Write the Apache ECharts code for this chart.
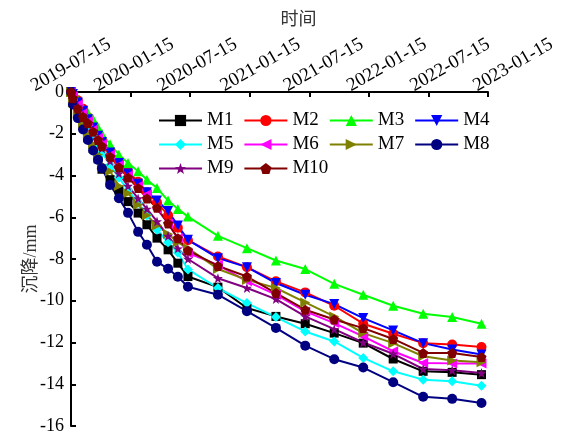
<!DOCTYPE html>
<html>
<head>
<meta charset="utf-8">
<script src="https://cdn.jsdelivr.net/npm/echarts@6/dist/echarts.min.js"></script>
<style>
  html, body { margin: 0; padding: 0; background: #fff; }
  #chart { width: 563px; height: 435px; }
</style>
</head>
<body>
<div id="chart"></div>
<script>
// survey dates (one shared list for all points)
const dates = [
  "2019-07-15", "2019-07-21", "2019-08-05", "2019-08-21", "2019-09-05", "2019-09-21",
  "2019-10-06", "2019-10-18", "2019-11-12", "2019-12-09", "2020-01-06", "2020-02-06",
  "2020-03-04", "2020-04-04", "2020-05-08", "2020-06-07", "2020-07-08", "2020-10-08",
  "2021-01-05", "2021-04-04", "2021-07-03", "2021-09-30", "2021-12-28", "2022-03-30",
  "2022-06-30", "2022-09-27", "2022-12-26"
];
const tickLabels = ["2019-07-15", "2020-01-15", "2020-07-15", "2021-01-15",
  "2021-07-15", "2022-01-15", "2022-07-15", "2023-01-15"];

// settlement values, mm
const m1 = [0, -0.5, -1.0, -1.6, -2.2, -2.7, -3.2, -3.7, -4.2, -4.7, -5.25, -5.8, -6.36, -7.0, -7.56, -8.2, -8.84,
  -9.35, -10.35, -10.75, -11.1, -11.55, -12.03, -12.79, -13.38, -13.43, -13.54];
const m2 = [0, -0.1, -0.4, -0.8, -1.2, -1.6, -2.0, -2.3, -2.8, -3.3, -3.8, -4.3, -4.8, -5.3, -5.9, -6.5, -7.1,
  -7.88, -8.39, -9.07, -9.6, -10.24, -11.1, -11.58, -12.03, -12.1, -12.22];
const m3 = [0, -0.1, -0.4, -0.8, -1.0, -1.3, -1.7, -2.0, -2.5, -3.0, -3.4, -3.8, -4.2, -4.6, -5.2, -5.6, -5.97,
  -6.89, -7.48, -8.07, -8.48, -9.19, -9.71, -10.24, -10.62, -10.78, -11.1];
const m4 = [0, -0.1, -0.5, -0.9, -1.3, -1.7, -2.1, -2.4, -2.9, -3.4, -3.9, -4.4, -4.8, -5.2, -5.7, -6.4, -7.08,
  -7.96, -8.39, -9.15, -9.71, -10.16, -10.83, -11.42, -12.03, -12.34, -12.58];
const m5 = [0, -0.3, -0.8, -1.2, -1.6, -2.1, -2.5, -2.9, -3.5, -4.1, -4.7, -5.3, -5.9, -6.6, -7.2, -7.7, -8.5,
  -9.39, -10.11, -10.78, -11.47, -11.95, -12.74, -13.38, -13.78, -13.86, -14.07];
const m6 = [0, -0.2, -0.6, -1.0, -1.4, -1.8, -2.2, -2.5, -3.0, -3.5, -4.0, -4.5, -4.9, -5.6, -6.3, -7.0, -7.72,
  -8.28, -9.07, -9.71, -10.51, -11.07, -11.71, -12.42, -12.98, -13.0, -13.0];
const m7 = [0, -0.5, -1.0, -1.5, -2.0, -2.5, -3.0, -3.5, -3.8, -4.5, -4.85, -5.4, -5.9, -6.4, -6.8, -7.2, -7.48,
  -8.48, -9.0, -9.39, -10.08, -10.75, -11.55, -12.03, -12.66, -12.86, -12.95];
const m8 = [0, -0.6, -1.25, -1.8, -2.3, -2.8, -3.25, -3.65, -4.45, -5.09, -5.79, -6.7, -7.32, -8.13, -8.47, -8.85, -9.33,
  -9.71, -10.5, -11.3, -12.15, -12.8, -13.2, -13.9, -14.6, -14.7, -14.9];
const m9 = [0, -0.3, -0.7, -1.1, -1.5, -1.9, -2.3, -2.7, -3.3, -3.9, -4.5, -5.1, -5.6, -6.2, -6.9, -7.5, -8.0,
  -8.92, -9.39, -9.92, -10.75, -11.36, -12.0, -12.54, -13.27, -13.33, -13.46];
const m10 = [0, -0.3, -0.8, -1.2, -1.5, -1.9, -2.3, -2.6, -3.1, -3.6, -4.1, -4.6, -5.1, -5.55, -6.3, -7.0, -7.59,
  -8.33, -8.84, -9.63, -10.43, -10.9, -11.31, -11.83, -12.5, -12.5, -12.7];

const names = ["M1", "M2", "M3", "M4", "M5", "M6", "M7", "M8", "M9", "M10"];
const values = [m1, m2, m3, m4, m5, m6, m7, m8, m9, m10];
const colors = ["#000000", "#ff0000", "#00ff00", "#0000ff", "#00ffff",
  "#ff00ff", "#808000", "#000080", "#800080", "#800000"];

const star = "path://M0,-10 L2.35,-3.24 L9.51,-3.09 L3.8,1.24 L5.88,8.09 L0,4 L-5.88,8.09 L-3.8,1.24 L-9.51,-3.09 L-2.35,-3.24 Z";
const pentagon = "path://M0,-10 L9.51,-3.09 L5.88,8.09 L-5.88,8.09 L-9.51,-3.09 Z";
const symbols = ["rect", "circle", "triangle", "triangle", "diamond",
  "triangle", "triangle", "circle", "star", "pentagon"];
const rotates = [0, 0, 0, 180, 0, 90, -90, 0, 0, 0];

const serif = '"Liberation Serif", "Noto Sans CJK SC", serif';

// x is measured in half-year steps from 2019-07-15 (tick spacing)
const start = Date.parse(dates[0]);
const halfYear = (Date.parse("2023-01-15") - start) / 7;
const xs = dates.map(d => (Date.parse(d) - start) / halfYear);

// the original tick labels drift to the right a little more for each tick;
// shift label i sideways by ~3.6*i px (split into along / across the rotated text)
const rich = {};
tickLabels.forEach((t, i) => {
  const h = 3.6 * i;
  const s = h * Math.cos(Math.PI / 6);
  const p = h * Math.sin(Math.PI / 6);
  rich["t" + i] = {
    fontSize: 19, fontFamily: serif, color: "#000",
    padding: [2 * p, 0, 0, 2 * s]
  };
});

const chart = echarts.init(document.getElementById("chart"));

const series = names.map((n, i) => ({
  name: n,
  type: "line",
  data: values[i].map((v, j) => [xs[j], v]),
  symbol: symbols[i] === "star" ? star : symbols[i] === "pentagon" ? pentagon : symbols[i],
  symbolRotate: rotates[i],
  symbolSize: symbols[i] === "rect" ? 9 : 10,
  showAllSymbol: true,
  lineStyle: { width: 2, color: colors[i] },
  itemStyle: { color: colors[i] },
  color: colors[i]
}));

// one legend per row, so the rows sit close together
const legendRow = (items, top) => ({
  data: items,
  left: 158,
  top: top,
  padding: 0,
  itemWidth: 43,
  itemHeight: 14,
  itemGap: 10,
  textStyle: { fontSize: 19, fontFamily: serif, color: "#000" }
});

chart.setOption({
  animation: false,
  color: colors,
  grid: { left: 71, right: 75, top: 92, bottom: 8 },
  legend: [
    legendRow(names.slice(0, 4), 111),
    legendRow(names.slice(4, 8), 135),
    legendRow(names.slice(8), 159)
  ],
  xAxis: {
    type: "value",
    position: "top",
    min: 0,
    max: 7,
    interval: 1,
    name: "时间",
    nameLocation: "middle",
    nameGap: 63,
    nameMoveOverlap: false,
    nameTextStyle: { fontSize: 18, fontFamily: serif, color: "#333", padding: [0, 0, 0, 38] },
    axisLine: { lineStyle: { color: "#000", width: 2 } },
    axisTick: { inside: true, length: 5, lineStyle: { color: "#000", width: 2 } },
    splitLine: { show: false },
    axisLabel: {
      rotate: 30,
      align: "center",
      verticalAlign: "middle",
      margin: 27,
      fontSize: 19,
      fontFamily: serif,
      color: "#000",
      hideOverlap: false,
      rich: rich,
      formatter: v => {
        const i = Math.round(v);
        return tickLabels[i] ? "{t" + i + "|" + tickLabels[i] + "}" : "";
      }
    }
  },
  yAxis: {
    type: "value",
    min: -16,
    max: 0,
    interval: 2,
    name: "沉降/mm",
    nameLocation: "middle",
    nameGap: 31,
    nameMoveOverlap: false,
    nameTextStyle: { fontSize: 18, fontFamily: serif, color: "#333" },
    axisLine: { show: true, lineStyle: { color: "#000", width: 2 } },
    axisTick: { show: true, inside: true, length: 5, lineStyle: { color: "#000", width: 2 } },
    splitLine: { show: false },
    axisLabel: { fontSize: 18, fontFamily: serif, color: "#000", margin: 7 }
  },
  series: series
});
</script>
</body>
</html>
